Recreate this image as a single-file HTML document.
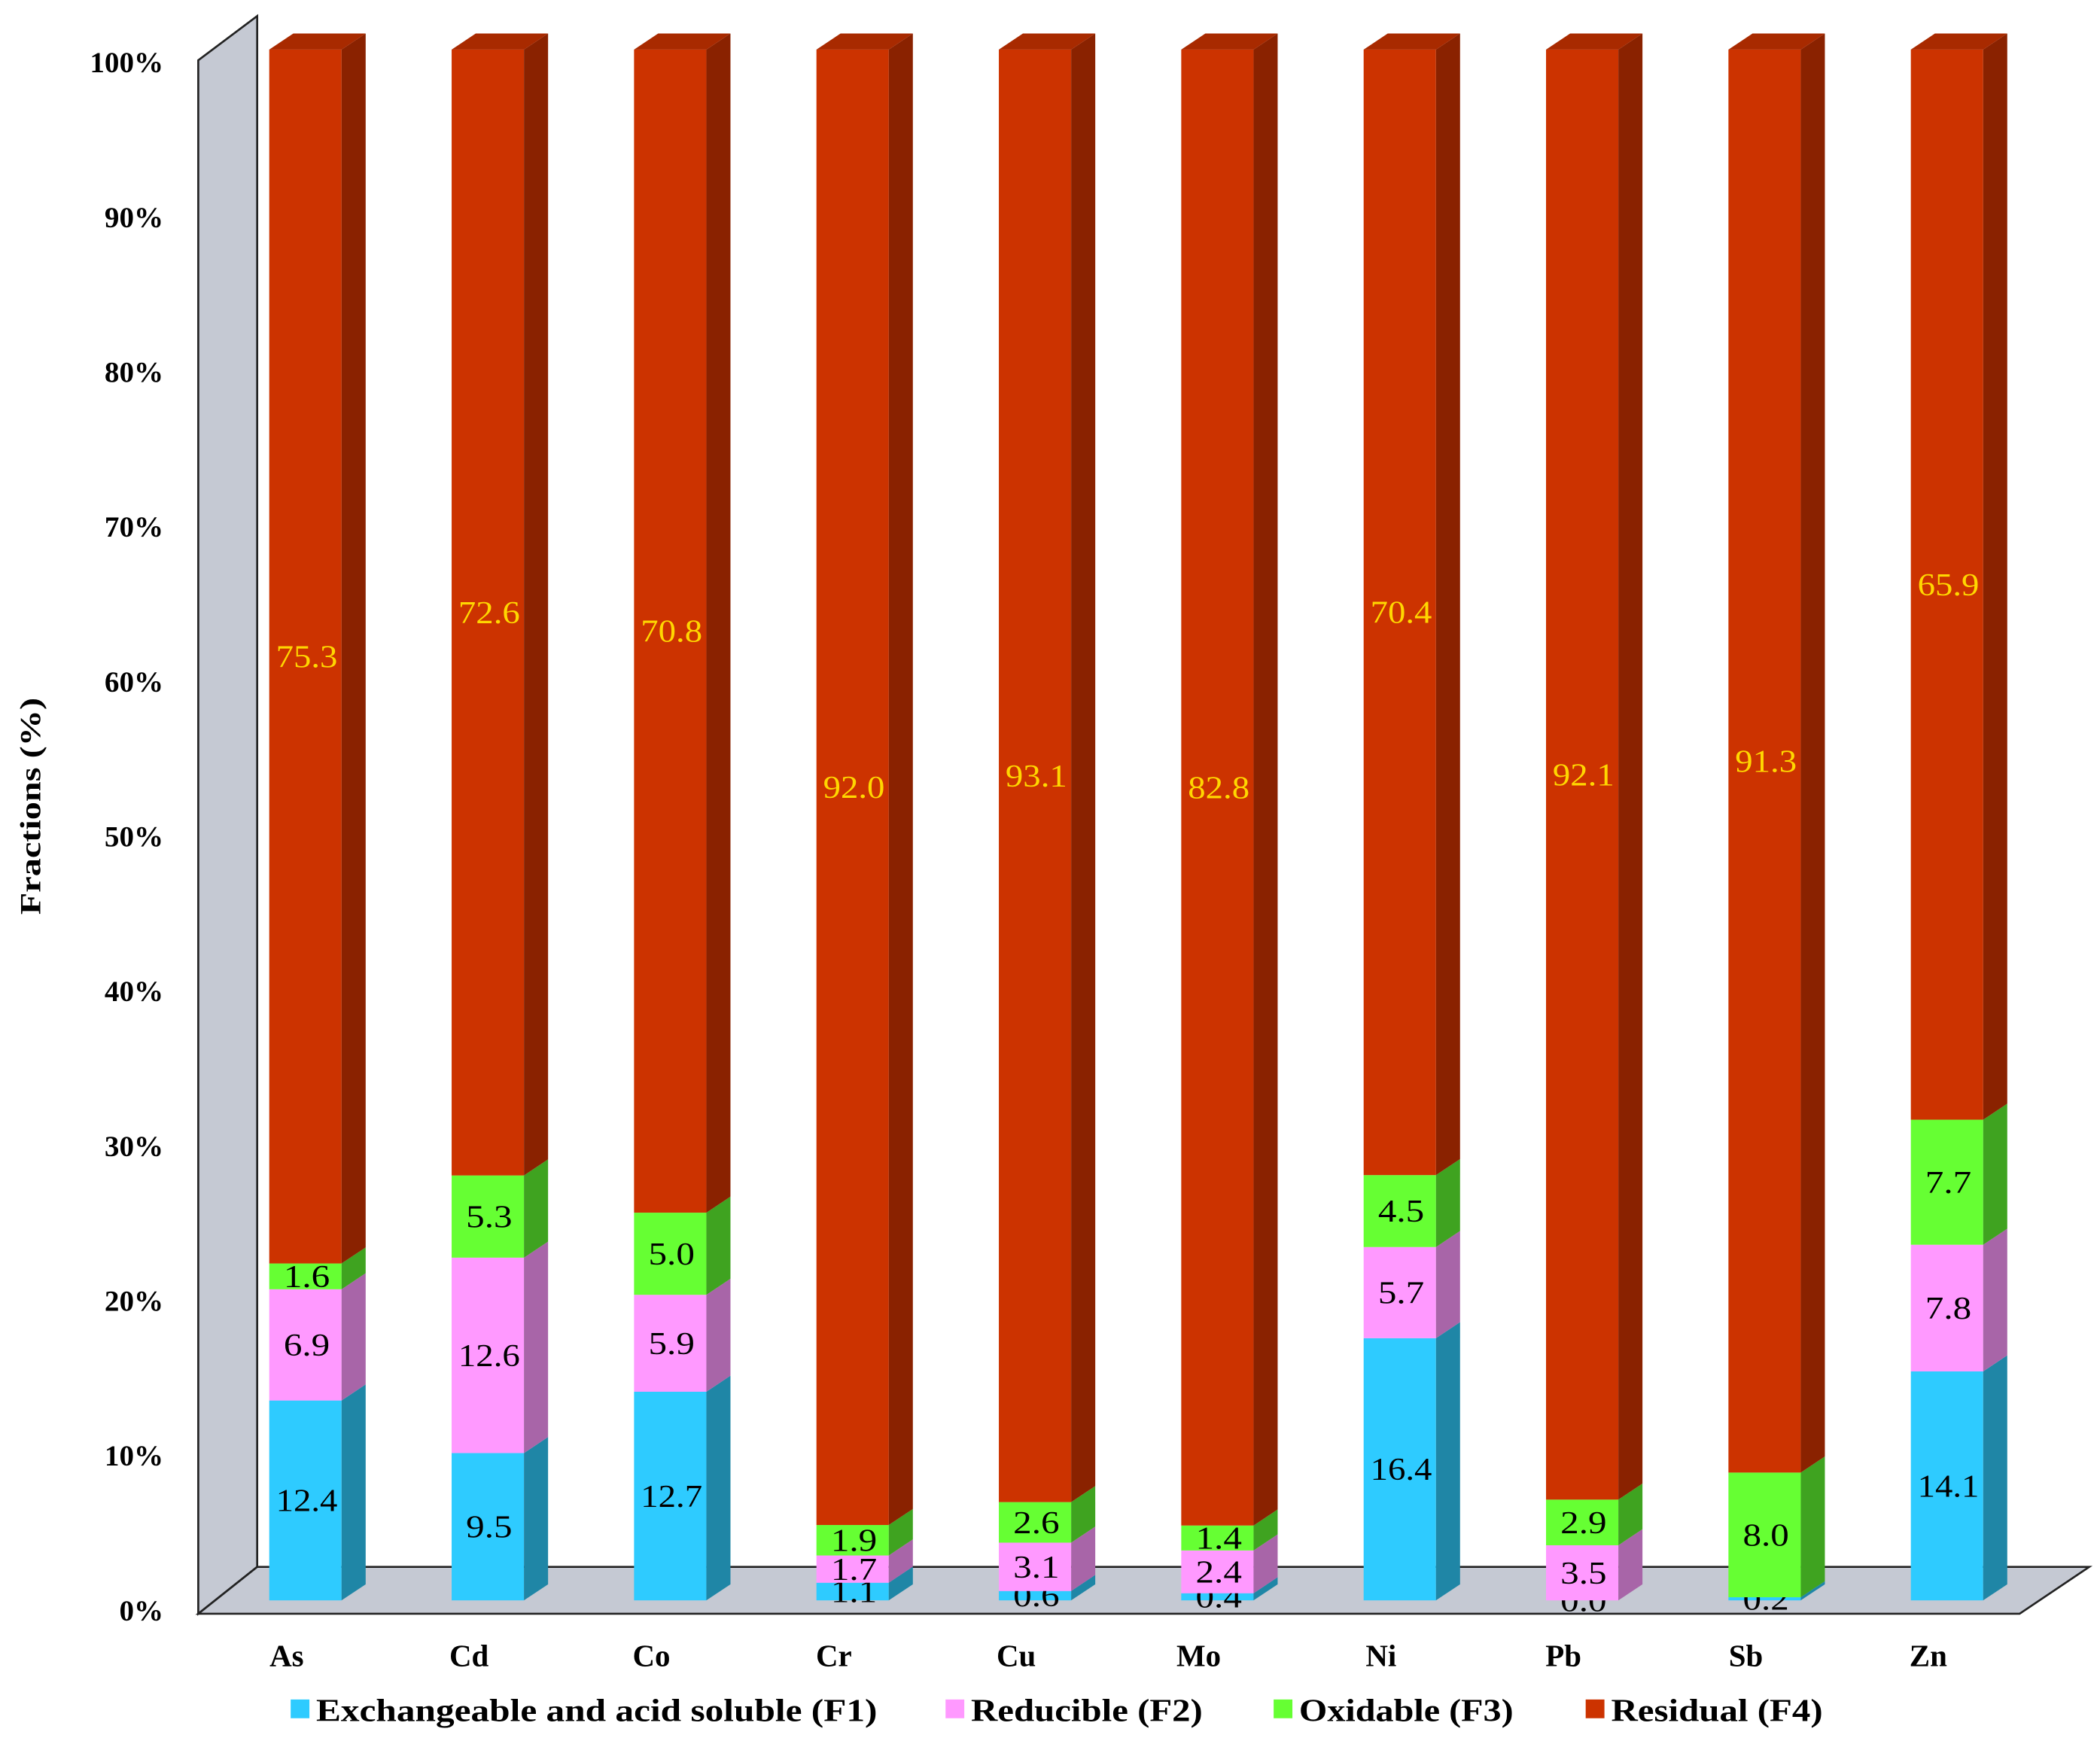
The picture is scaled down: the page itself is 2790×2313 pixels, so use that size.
<!DOCTYPE html>
<html><head><meta charset="utf-8"><style>
html,body{margin:0;padding:0;background:#fff}
svg{display:block}
text{font-family:"Liberation Serif",serif}
</style></head><body>
<svg id="chart" width="2790" height="2313" viewBox="0 0 1568 1300" xmlns="http://www.w3.org/2000/svg">
<g id="frame">
<polygon points="148,45 192,12 192,1170 148,1205" fill="#c5c9d3" stroke="#222" stroke-width="1.5"/>
<polygon points="148,1205 192,1170 1560,1170 1508,1205" fill="#c5c9d3" stroke="#222" stroke-width="1.5"/>
</g>
<g id="yticks"></g>
<text transform="translate(30,602) rotate(-90)" text-anchor="middle" font-size="22" font-weight="bold" textLength="162" lengthAdjust="spacingAndGlyphs">Fractions (%)</text>
<g id="bars"></g>
<g id="xlabels"></g>
<g id="legend"></g>
</svg>
<script>
const categories=["As","Cd","Co","Cr","Cu","Mo","Ni","Pb","Sb","Zn"];
const f1=[12.4,9.5,12.7,1.1,0.6,0.4,16.4,0.0,0.2,14.1];
const f2=[6.9,12.6,5.9,1.7,3.1,2.4,5.7,3.5,0.0,7.8];
const f3=[1.6,5.3,5.0,1.9,2.6,1.4,4.5,2.9,8.0,7.7];
const f4=[75.3,72.6,70.8,92.0,93.1,82.8,70.4,92.1,91.3,65.9];
const yTicks=[0,10,20,30,40,50,60,70,80,90,100];
const seriesNames=["Exchangeable and acid soluble (F1)","Reducible (F2)","Oxidable (F3)","Residual (F4)"];
const series=[f1,f2,f3,f4];
const front=["#2ecbff","#ff99ff","#66ff33","#cc3300"];
const side=["#1f86a6","#a865a8","#3fa320","#8a2200"];
const labelCol=["#000","#000","#000","#ffd700"];
const showLabel=[[1,1,1,1,1,1,1,1,1,1],[1,1,1,1,1,1,1,1,0,1],[1,1,1,1,1,1,1,1,1,1],[1,1,1,1,1,1,1,1,1,1]];
const NS="http://www.w3.org/2000/svg";
const Y0=1195,Y1=37,X0=201,STEP=136.2,BW=54,DX=18,DY=12;
function y(p){return Y0-(Y0-Y1)*p/100;}
function xb(i){return X0+i*STEP;}
function mk(tag,attrs,parent){const e=document.createElementNS(NS,tag);for(const k in attrs)e.setAttribute(k,attrs[k]);parent.appendChild(e);return e;}
const yt=document.getElementById('yticks');
yTicks.forEach(t=>{
 const e=mk('text',{x:122,y:1203-t*11.56+7,'text-anchor':'end','font-size':22,'font-weight':'bold'},yt);
 
 
 e.textContent=t+'%';
});
const bars=document.getElementById('bars');
categories.forEach((c,i)=>{
 const tot=series.reduce((s,a)=>s+a[i],0);
 let cum=0;
 const x=xb(i);
 const g=mk('g',{},bars);
 
 
 series.forEach((arr,k)=>{
  const v=arr[i]/tot*100;
  const yb=y(cum),ytp=y(cum+v);
  cum+=v;
  if(v>0){
   const r=mk('rect',{x:x,y:ytp,width:BW,height:yb-ytp,fill:front[k]},g);
   
   
   const s=mk('polygon',{points:`${x+BW},${yb} ${x+BW+DX},${yb-DY} ${x+BW+DX},${ytp-DY} ${x+BW},${ytp}`,fill:side[k]},g);
   
   
  }
  if(showLabel[k][i]){
   const txt=arr[i].toFixed(1);
   const t=mk('text',{x:x+BW/2+1,y:(yb+ytp)/2+8,'text-anchor':'middle','font-size':24,fill:labelCol[k],textLength:txt.length*11.5,lengthAdjust:'spacingAndGlyphs'},g);
   
   
   t.textContent=txt;
  }
 });
 const top=mk('polygon',{points:`${x},${Y1} ${x+DX},${Y1-DY} ${x+BW+DX},${Y1-DY} ${x+BW},${Y1}`,fill:"#a82a00"},g);
 
 
 const xl=mk('text',{x:x+BW/2-14,y:1244,'text-anchor':'middle','font-size':23,'font-weight':'bold'},document.getElementById('xlabels'));
 
 
 xl.textContent=c;
});
const lg=document.getElementById('legend');
const lx=[217,706,951,1184];
const lw=[419,173,160,158];
seriesNames.forEach((n,k)=>{
 const r=mk('rect',{x:lx[k],y:1269,width:14,height:14,fill:front[k]},lg);
 
 
 const t=mk('text',{x:lx[k]+19,y:1285,'font-size':24,'font-weight':'bold',textLength:lw[k],lengthAdjust:'spacingAndGlyphs'},lg);
 
 
 t.textContent=n;
});
</script>
</body></html>
